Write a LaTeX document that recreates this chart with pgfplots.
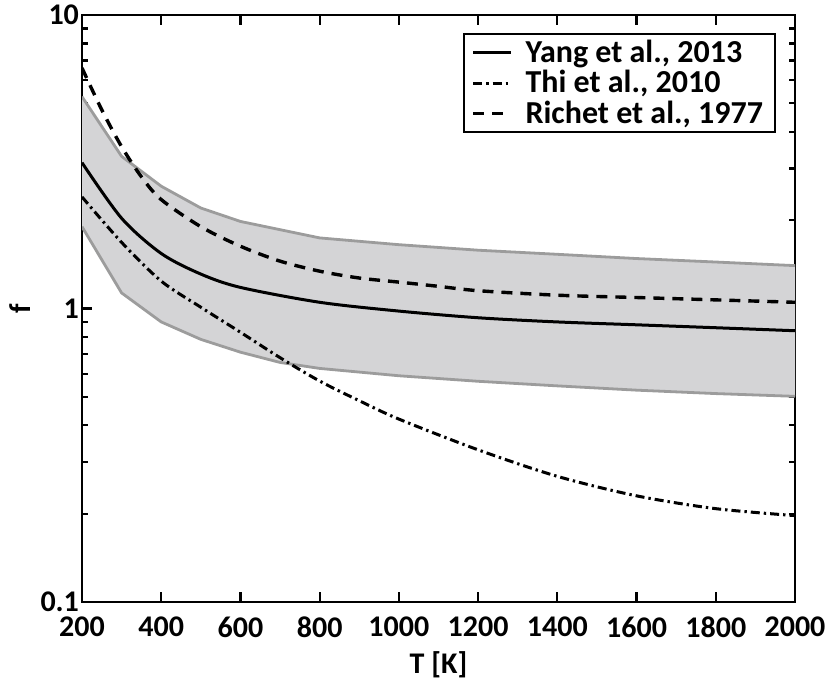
\documentclass[border=0pt]{standalone}
\usepackage{fontspec}
\setmainfont{Carlito}
\usepackage{pgfplots}
\pgfplotsset{compat=1.18}
\definecolor{bandfill}{HTML}{D4D4D6}
\definecolor{bandedge}{HTML}{9C9C9C}
\begin{document}
\begin{tikzpicture}
\path[use as bounding box] (-41pt,-42pt) rectangle (376.5pt,301pt);
\begin{axis}[
  at={(0,0)}, anchor=south west,
  scale only axis, width=356.5pt, height=293.5pt,
  ymode=log, xmin=200, xmax=2000, ymin=0.1, ymax=10,
  xtick={200,400,...,2000},
  xticklabels={200,400,600,800,1000,1200,1400,1600,1800,2000},
  ytick={0.1,1,10}, yticklabels={0.1,1,10},
  tick align=inside, xtick pos=both, ytick pos=both,
  major tick length=5pt, minor tick length=3pt,
  axis line style={line width=1.2pt},
  every tick/.style={black, line width=1.1pt},
  tick label style={font=\fontsize{15}{15}\selectfont\bfseries},
  xticklabel style={yshift=-4pt},
  yticklabel style={xshift=2pt},
  xlabel={T [K]}, ylabel={f},
  every axis x label/.style={at={(axis description cs:0.5,-0.107)}, anchor=center,
    font=\fontsize{15}{15}\selectfont\bfseries},
  every axis y label/.style={at={(axis description cs:-0.087,0.5)}, anchor=center, rotate=90,
    font=\fontsize{15}{15}\selectfont\bfseries},
  legend style={at={(axis description cs:0.9734,0.9693)}, anchor=north east,
    draw=black, line width=1pt, font=\fontsize{16}{16}\selectfont\bfseries,
    inner xsep=4pt, inner ysep=1pt, row sep=-1.5pt},
  legend cell align=left,
  legend image code/.code={\draw[#1] (0cm,0cm) -- (0.66cm,0cm); \path (0.82cm,0cm);},
]
% shaded band: upper bound then lower bound reversed
\addplot[fill=bandfill, draw=none, forget plot] coordinates {
(200,5.27) (300,3.30) (400,2.61) (500,2.20) (600,1.98) (800,1.74) (1000,1.65)
(1200,1.58) (1400,1.53) (1600,1.48) (1800,1.44) (2000,1.40)
(2000,0.502) (1800,0.513) (1600,0.527) (1400,0.545) (1200,0.565) (1000,0.59)
(800,0.625) (700,0.655) (600,0.71) (500,0.785) (400,0.90) (300,1.13) (200,1.90)} -- cycle;
\addplot[bandedge, line width=1.4pt, forget plot] coordinates {
(200,5.27) (300,3.30) (400,2.61) (500,2.20) (600,1.98) (800,1.74) (1000,1.65)
(1200,1.58) (1400,1.53) (1600,1.48) (1800,1.44) (2000,1.40)};
\addplot[bandedge, line width=1.4pt, forget plot] coordinates {
(200,1.90) (300,1.13) (400,0.90) (500,0.785) (600,0.71) (700,0.655) (800,0.625)
(1000,0.59) (1200,0.565) (1400,0.545) (1600,0.527) (1800,0.513) (2000,0.502)};
\addplot[black, line width=1.5pt, smooth] coordinates {
(200,3.14) (300,2.03) (400,1.54) (500,1.31) (600,1.18) (800,1.05) (1000,0.98)
(1200,0.93) (1400,0.90) (1600,0.88) (1800,0.86) (2000,0.84)};
\addlegendentry{Yang et al., 2013}
\addplot[black, line width=1.5pt, smooth, dash pattern=on 4.5pt off 2pt on 1.2pt off 2pt] coordinates {
(200,2.40) (300,1.68) (400,1.24) (500,1.01) (600,0.83) (700,0.68) (800,0.566)
(900,0.485) (1000,0.42) (1200,0.33) (1400,0.268) (1600,0.23) (1800,0.208) (2000,0.197)};
\addlegendentry{Thi et al., 2010}
\addplot[black, line width=1.7pt, smooth, dash pattern=on 5.5pt off 4pt] coordinates {
(200,6.6) (250,4.75) (300,3.56) (350,2.81) (400,2.35) (500,1.90) (600,1.63) (700,1.45) (800,1.34)
(900,1.27) (1000,1.23) (1100,1.19) (1200,1.15) (1400,1.11) (1600,1.09) (1800,1.07) (2000,1.05)};
\addlegendentry{Richet et al., 1977}
\end{axis}
\end{tikzpicture}
\end{document}
